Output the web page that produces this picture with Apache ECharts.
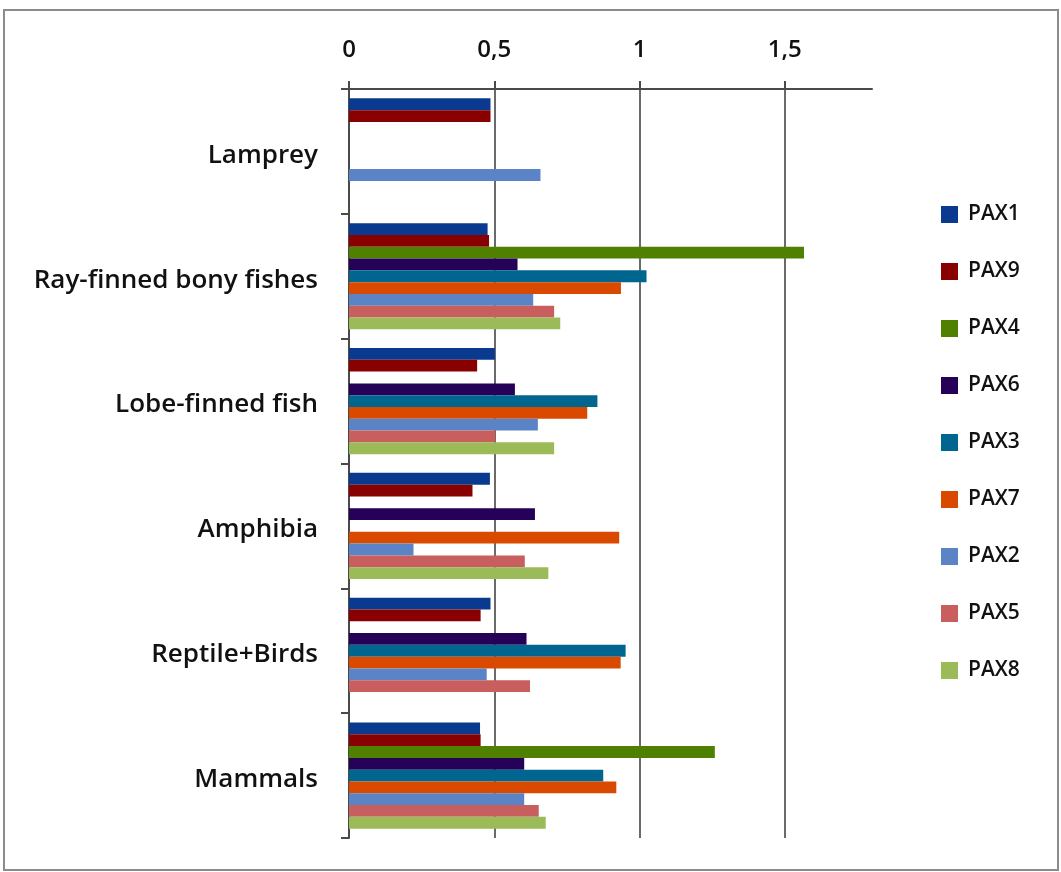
<!DOCTYPE html>
<html>
<head>
<meta charset="utf-8">
<title>PAX genes</title>
<script src="https://cdn.jsdelivr.net/npm/echarts@6/dist/echarts.min.js"></script>
<style>
  html, body { margin: 0; padding: 0; background: #fff; }
  #chart { width: 1061px; height: 872px; }
</style>
</head>
<body>
<div id="chart"></div>
<script>
// Groups of organisms, top to bottom
const categories = ['Lamprey', 'Ray-finned bony fishes', 'Lobe-finned fish', 'Amphibia', 'Reptile+Birds', 'Mammals'];

// Values per gene, one entry per group (null = no bar)
const PAX1 = [0.487, 0.477, 0.502, 0.485, 0.487, 0.451];
const PAX9 = [0.487, 0.482, 0.441, 0.425, 0.453, 0.453];
const PAX4 = [null, 1.566, null, null, null, 1.259];
const PAX6 = [null, 0.580, 0.571, 0.640, 0.611, 0.603];
const PAX3 = [null, 1.024, 0.855, null, 0.952, 0.875];
const PAX7 = [null, 0.936, 0.820, 0.930, 0.935, 0.920];
const PAX2 = [0.659, 0.634, 0.650, 0.222, 0.474, 0.603];
const PAX5 = [null, 0.706, 0.503, 0.605, 0.623, 0.653];
const PAX8 = [null, 0.727, 0.706, 0.686, null, 0.677];

const geneNames = ['PAX1', 'PAX9', 'PAX4', 'PAX6', 'PAX3', 'PAX7', 'PAX2', 'PAX5', 'PAX8'];
const geneValues = [PAX1, PAX9, PAX4, PAX6, PAX3, PAX7, PAX2, PAX5, PAX8];
const geneColors = ['#0a3a8f', '#880000', '#4f8000', '#250157', '#00668f', '#d94a00', '#5b84c6', '#c95e5f', '#9bbb59'];

// x axis ticks
const xMin = 0, xMax = 1.8, xStep = 0.5;

const FONT = '"Open Sans", Lato, sans-serif';

const chart = echarts.init(document.getElementById('chart'), null, { renderer: 'canvas' });

const series = geneNames.map((name, i) => ({
  name: name,
  type: 'bar',
  data: geneValues[i],
  itemStyle: { color: geneColors[i] },
  barGap: '0%',
  barCategoryGap: '15%'
}));

chart.setOption({
  backgroundColor: '#fff',
  animation: false,
  color: geneColors,
  graphic: [{
    type: 'rect',
    shape: { x: 4, y: 10, width: 1054, height: 860 },
    style: { fill: 'none', stroke: '#8c8c8c', lineWidth: 2 },
    silent: true
  }],
  grid: { left: 349, top: 89, right: 189, bottom: 34, containLabel: false },
  legend: {
    orient: 'vertical',
    left: 941,
    top: 204,
    padding: 0,
    itemWidth: 17,
    itemHeight: 17,
    itemGap: 36,
    icon: 'rect',
    data: geneNames,
    textStyle: { fontFamily: FONT, fontSize: 21, fontWeight: 600, color: '#111', padding: [0, 0, 0, 5] }
  },
  xAxis: {
    type: 'value',
    position: 'top',
    min: xMin,
    max: xMax,
    interval: xStep,
    axisLine: { show: true, lineStyle: { color: '#4a4a4a', width: 2 } },
    axisTick: { show: true, length: 8, lineStyle: { color: '#4a4a4a', width: 2 } },
    axisLabel: {
      showMaxLabel: false,
      margin: 27,
      fontFamily: FONT,
      fontSize: 24,
      fontWeight: 600,
      color: '#111',
      formatter: v => String(v).replace('.', ',')
    },
    splitLine: { show: true, showMinLine: false, showMaxLine: false, lineStyle: { color: '#6a6a6a', width: 2 } }
  },
  yAxis: {
    type: 'category',
    data: categories,
    inverse: true,
    axisLine: { show: true, lineStyle: { color: '#4a4a4a', width: 2 } },
    axisTick: { show: true, length: 8, lineStyle: { color: '#4a4a4a', width: 2 } },
    axisLabel: {
      margin: 31,
      formatter: v => '{c|' + v + '}',
      rich: {
        c: {
          fontFamily: FONT,
          fontSize: 26,
          fontWeight: 600,
          color: '#111',
          padding: [8, 0, 0, 0]
        }
      }
    }
  },
  series: series
});
</script>
</body>
</html>
